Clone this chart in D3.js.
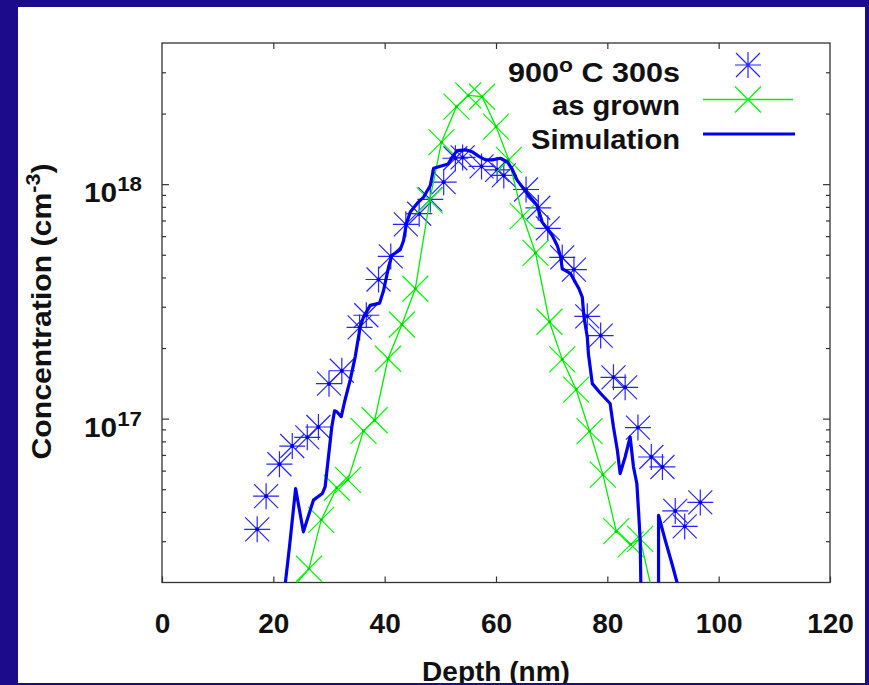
<!DOCTYPE html>
<html>
<head>
<meta charset="utf-8">
<style>
body { margin: 0; background: #1c0b8b; }
svg { display: block; }
.lbl { font: bold 28px "Liberation Sans", Arial, sans-serif; fill: #111; }
.tick line { stroke: #333; stroke-width: 1.2; }
.frame { fill: none; stroke: #333; stroke-width: 1.3; }
</style>
</head>
<body>
<svg width="869" height="685"></svg>
<script src="https://cdn.jsdelivr.net/npm/d3@7"></script>
<script>

// depth (nm), concentration (cm^-3)
var anneal900 = [
  [17.1,3.37e16],[18.7,4.67e16],[21.1,6.39e16],[23.4,7.64e16],[26.1,8.32e16],[28.1,9.21e16],
  [30.0,1.41e17],[32.3,1.60e17],[35.5,2.45e17],[36.7,2.76e17],[38.9,3.92e17],[41.1,4.92e17],
  [43.8,6.74e17],[46.2,7.48e17],[48.2,8.61e17],[50.6,1.02e18],[52.7,1.29e18],[54.0,1.30e18],
  [57.4,1.19e18],[60.2,1.15e18],[61.4,1.09e18],[65.4,9.49e17],[67.6,7.93e17],[69.3,6.48e17],
  [71.9,4.87e17],[74.0,4.32e17],[76.4,2.73e17],[78.8,2.26e17],[81.1,1.50e17],[83.2,1.36e17],
  [85.5,9.16e16],[87.9,6.86e16],[89.9,6.22e16],[92.2,4.04e16],[93.9,3.47e16],[96.7,4.39e16]
];

var asGrown = [
  [23.1,1.85e16],[26.4,2.29e16],[28.6,3.70e16],[31.4,5.07e16],[33.4,5.48e16],[36.2,8.87e16],
  [38.2,9.84e16],[40.6,1.80e17],[43.1,2.52e17],[45.5,3.58e17],[48.1,8.53e17],[50.2,1.51e18],
  [52.9,2.14e18],[55.0,2.39e18],[57.5,2.36e18],[60.0,1.76e18],[62.3,1.27e18],[64.8,7.31e17],
  [67.1,5.09e17],[69.6,2.59e17],[71.9,1.79e17],[74.4,1.33e17],[76.8,8.85e16],[79.2,5.77e16],
  [81.6,3.31e16],[84.2,2.91e16],[85.9,3.07e16],[88.4,1.68e16]
];

var simulation = [
  [21.8,1.68e16],[22.9,2.84e16],[24.0,5.03e16],[25.4,3.29e16],[27.2,4.49e16],[28.8,4.79e16],
  [29.3,5.11e16],[30.5,9.21e16],[31.0,1.08e17],[31.4,1.07e17],[32.2,1.02e17],[32.8,1.18e17],
  [33.8,1.46e17],[34.7,1.83e17],[35.6,2.46e17],[36.2,2.71e17],[37.4,3.04e17],[39.1,3.11e17],
  [39.8,3.52e17],[40.7,4.43e17],[41.3,4.97e17],[42.8,5.25e17],[43.4,5.75e17],[43.9,6.78e17],
  [44.6,7.60e17],[45.9,8.32e17],[47.0,8.81e17],[48.2,9.87e17],[48.8,1.17e18],[51.4,1.22e18],
  [52.4,1.33e18],[53.0,1.39e18],[54.7,1.40e18],[55.8,1.37e18],[57.0,1.31e18],[58.1,1.27e18],
  [59.3,1.27e18],[60.8,1.29e18],[62.1,1.24e18],[62.9,1.16e18],[63.8,1.04e18],[65.1,9.45e17],
  [67.4,8.11e17],[68.3,6.89e17],[70.1,6.04e17],[71.0,5.48e17],[71.6,4.92e17],[71.9,4.36e17],
  [73.4,4.15e17],[74.9,3.58e17],[75.5,3.30e17],[75.8,2.71e17],[76.4,2.23e17],[76.6,1.89e17],
  [77.3,1.41e17],[78.8,1.28e17],[80.5,1.16e17],[81.1,9.21e16],[81.8,7.33e16],[82.3,5.83e16],
  [83.2,6.86e16],[84.1,8.35e16],[84.7,6.22e16],[85.3,5.29e16],[85.6,4.07e16],[85.9,3.03e16],
  [86.2,1.03e16],[89.2,1.03e16],[89.2,3.87e16],[90.4,3.03e16],[91.6,2.41e16],[92.5,2.01e16],
  [93.1,1.77e16]
];

var xTicks = [0, 20, 40, 60, 80, 100, 120];
var yMajor = [1e17, 1e18];
var yMinor = [3e16,4e16,5e16,6e16,7e16,8e16,9e16,2e17,3e17,4e17,5e17,6e17,7e17,8e17,9e17,2e18,3e18];
var legendLabels = ["900", "as grown", "Simulation"];

var svg = d3.select("svg");

// white panel inside the navy border
svg.append("rect").attr("x", 18).attr("y", 7).attr("width", 847).attr("height", 676).attr("fill", "#fff");

var x = d3.scaleLinear().domain([0, 120]).range([162, 830]);
var y = d3.scaleLog().domain([2e16, 4e18]).range([582.5, 43]);

svg.append("clipPath").attr("id", "plot")
  .append("rect").attr("x", 162).attr("y", 43).attr("width", 668).attr("height", 539.5);

//axes, ticks pointing inward
var gb = svg.append("g")
  .attr("transform", "translate(0," + y.range()[0] + ")")
  .call(d3.axisBottom(x).tickValues(xTicks).tickSize(-6).tickPadding(31));
gb.selectAll("text").attr("class", "lbl").attr("fill", "#111");

svg.append("g").attr("transform", "translate(0,43)")
  .call(d3.axisTop(x).tickValues(xTicks.slice(1, -1)).tickSize(-6).tickFormat(""));

svg.append("g").attr("transform", "translate(162,0)")
  .call(d3.axisLeft(y).tickValues(yMajor).tickSize(-7).tickFormat(""));
svg.append("g").attr("transform", "translate(162,0)")
  .call(d3.axisLeft(y).tickValues(yMinor).tickSize(-4).tickFormat(""));
svg.append("g").attr("transform", "translate(830,0)")
  .call(d3.axisRight(y).tickValues(yMajor).tickSize(-7).tickFormat(""));
svg.append("g").attr("transform", "translate(830,0)")
  .call(d3.axisRight(y).tickValues(yMinor).tickSize(-4).tickFormat(""));

svg.selectAll(".domain").remove();

// y labels 10^n
yMajor.forEach(function(v) {
  var t = svg.append("text").attr("class", "lbl")
    .attr("x", 142).attr("y", y(v) + 18).attr("text-anchor", "end")
    .attr("textLength", 58).attr("lengthAdjust", "spacingAndGlyphs");
  t.append("tspan").text("10");
  t.append("tspan").attr("dy", -11).style("font-size", "21px").text(Math.round(Math.log10(v)));
});

svg.append("rect").attr("class", "frame")
  .attr("x", 162).attr("y", 43).attr("width", 668).attr("height", 539.5);

// axis titles
var yt = svg.append("text").attr("class", "lbl").attr("text-anchor", "middle")
  .attr("textLength", 296).attr("lengthAdjust", "spacingAndGlyphs")
  .attr("transform", "translate(51,311.5) rotate(-90)");
yt.append("tspan").text("Concentration (cm");
yt.append("tspan").attr("dy", -11).style("font-size", "20px").text("-3");
yt.append("tspan").attr("dy", 11).text(")");

svg.append("text").attr("class", "lbl").attr("text-anchor", "middle")
  .attr("x", 496).attr("y", 681).text("Depth (nm)");

// markers
var star = "M-13,0H13M0,-13V13M-12,-12L12,12M-12,12L12,-12";
var cross = "M-13,-13L13,13M-13,13L13,-13";
var inside = function(d) { return d[1] >= 2e16 && d[1] <= 4e18; };

var line = d3.line().x(function(d) { return x(d[0]); }).y(function(d) { return y(d[1]); });

var data = svg.append("g").attr("clip-path", "url(#plot)");

data.selectAll(".star").data(anneal900).enter().append("path")
  .attr("class", "star")
  .attr("transform", function(d) { return "translate(" + x(d[0]) + "," + y(d[1]) + ")"; })
  .attr("d", star).attr("fill", "none").attr("stroke", "#2626ff").attr("stroke-width", 1.2);
data.selectAll(".sdot").data(anneal900).enter().append("circle")
  .attr("cx", function(d) { return x(d[0]); }).attr("cy", function(d) { return y(d[1]); })
  .attr("r", 2).attr("fill", "#0000ee");

data.append("path").datum(asGrown).attr("d", line)
  .attr("fill", "none").attr("stroke", "#00ee00").attr("stroke-width", 1.3);
data.selectAll(".cross").data(asGrown.filter(inside)).enter().append("path")
  .attr("class", "cross")
  .attr("transform", function(d) { return "translate(" + x(d[0]) + "," + y(d[1]) + ")"; })
  .attr("d", cross).attr("fill", "none").attr("stroke", "#00ff00").attr("stroke-width", 1.2);
data.selectAll(".gdot").data(asGrown.filter(inside)).enter().append("circle")
  .attr("cx", function(d) { return x(d[0]); }).attr("cy", function(d) { return y(d[1]); })
  .attr("r", 1.5).attr("fill", "#00cc00");

data.append("path").datum(simulation).attr("d", line)
  .attr("fill", "none").attr("stroke", "#0000ee").attr("stroke-width", 3.2)
  .attr("stroke-linejoin", "round");

// legend, text a bit wider than the tick font
var lx = 680, rows = [82, 115, 149], widths = [172, 128, 149];
var l0 = svg.append("text").attr("class", "lbl").attr("x", lx).attr("y", rows[0]).attr("text-anchor", "end")
  .attr("textLength", widths[0]).attr("lengthAdjust", "spacingAndGlyphs");
l0.append("tspan").text(legendLabels[0]);
l0.append("tspan").attr("dy", -10).style("font-size", "21px").text("o");
l0.append("tspan").attr("dy", 10).text(" C 300s");
[1, 2].forEach(function(i) {
  svg.append("text").attr("class", "lbl").attr("x", lx).attr("y", rows[i]).attr("text-anchor", "end")
    .attr("textLength", widths[i]).attr("lengthAdjust", "spacingAndGlyphs").text(legendLabels[i]);
});

svg.append("path").attr("transform", "translate(748,65)").attr("d", star)
  .attr("fill", "none").attr("stroke", "#2626ff").attr("stroke-width", 1.2);
svg.append("line").attr("x1", 703).attr("x2", 793).attr("y1", 99.5).attr("y2", 99.5)
  .attr("stroke", "#00ee00").attr("stroke-width", 1.3);
svg.append("path").attr("transform", "translate(748,99.5)").attr("d", cross)
  .attr("fill", "none").attr("stroke", "#00ff00").attr("stroke-width", 1.2);
svg.append("line").attr("x1", 703).attr("x2", 795).attr("y1", 134).attr("y2", 134)
  .attr("stroke", "#0000ee").attr("stroke-width", 3.2);

// navy border over the bottom edge, it cuts the title
svg.append("rect").attr("x", 0).attr("y", 683).attr("width", 869).attr("height", 2).attr("fill", "#1c0b8b");
</script>
</body>
</html>
